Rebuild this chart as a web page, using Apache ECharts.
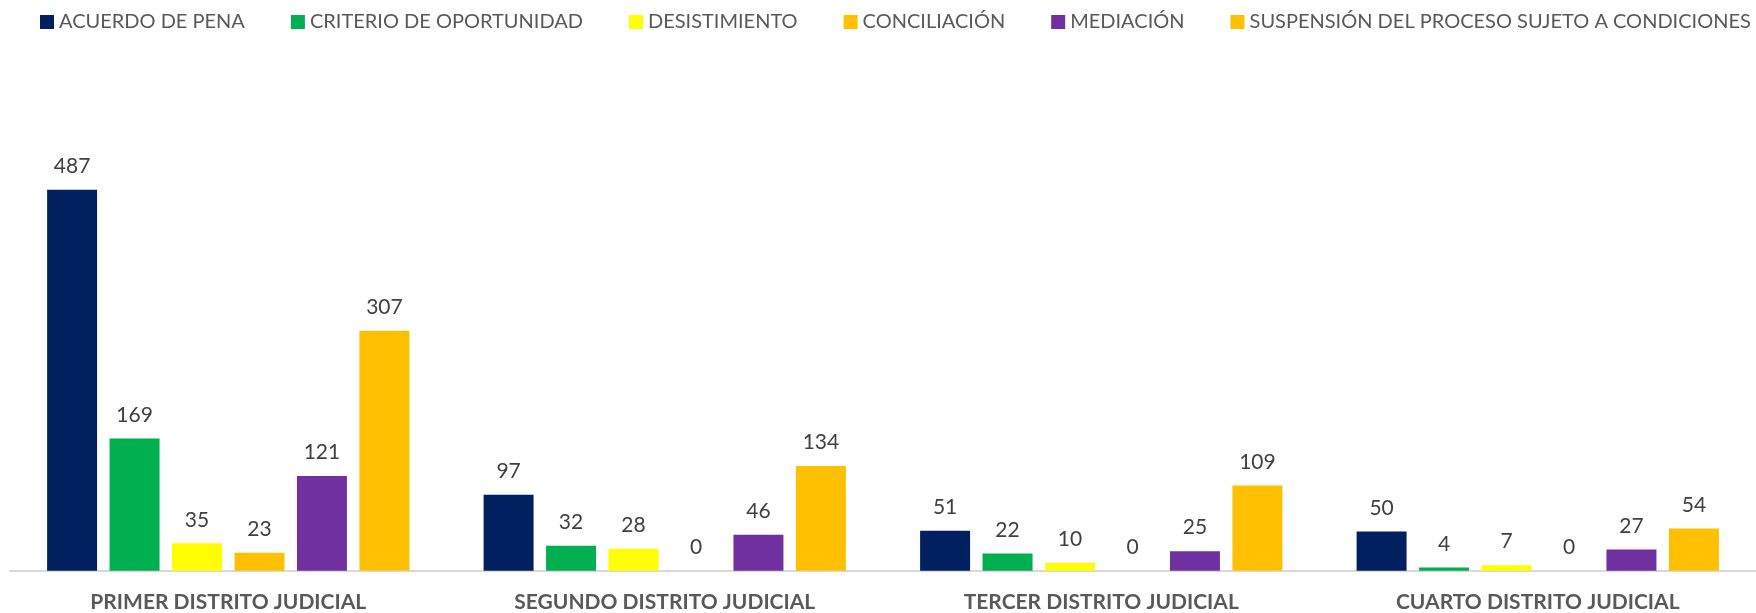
<!DOCTYPE html>
<html>
<head>
<meta charset="utf-8">
<script src="https://cdn.jsdelivr.net/npm/echarts@6/dist/echarts.min.js"></script>
<style>
  html, body { margin: 0; padding: 0; background: #fff; }
  #main { width: 1756px; height: 613px; }
</style>
</head>
<body>
<div id="main"></div>
<script>
// distritos
var distritos = ['PRIMER DISTRITO JUDICIAL', 'SEGUNDO DISTRITO JUDICIAL', 'TERCER DISTRITO JUDICIAL', 'CUARTO DISTRITO JUDICIAL'];

// valores por tipo de salida
var acuerdoPena = [487, 97, 51, 50];
var criterioOportunidad = [169, 32, 22, 4];
var desistimiento = [35, 28, 10, 7];
var conciliacion = [23, 0, 0, 0];
var mediacion = [121, 46, 25, 27];
var suspension = [307, 134, 109, 54];

var nombres = ['ACUERDO DE PENA', 'CRITERIO DE OPORTUNIDAD', 'DESISTIMIENTO', 'CONCILIACIÓN', 'MEDIACIÓN', 'SUSPENSIÓN DEL PROCESO SUJETO A CONDICIONES'];
var colores = ['#002060', '#00B050', '#FFFF00', '#FFC000', '#7030A0', '#FFC000'];
var valores = [acuerdoPena, criterioOportunidad, desistimiento, conciliacion, mediacion, suspension];

var fuente = 'Lato, "Open Sans", sans-serif';

var series = [];
for (var i = 0; i < nombres.length; i++) {
  series.push({
    name: nombres[i],
    type: 'bar',
    data: valores[i],
    barGap: '25%',
    barCategoryGap: '17%',
    itemStyle: { color: colores[i] },
    label: {
      show: true,
      position: 'top',
      distance: 13,
      color: '#404040',
      fontSize: 21,
      fontFamily: fuente
    }
  });
}

var myChart = echarts.init(document.getElementById('main'));
var option = {
  animation: false,
  color: colores,
  legend: {
    left: 40,
    top: 12,
    width: 1716,
    padding: 0,
    itemWidth: 14,
    itemHeight: 14,
    itemGap: 46,
    icon: 'rect',
    textStyle: {
      color: '#595959',
      fontSize: 20,
      fontFamily: fuente
    },
    data: nombres
  },
  grid: {
    left: 10,
    right: 0,
    top: 101.5,
    bottom: 42.3,
    containLabel: false
  },
  xAxis: {
    type: 'category',
    data: distritos,
    axisTick: { show: false },
    axisLine: { lineStyle: { color: '#D9D9D9', width: 2 } },
    axisLabel: {
      color: '#595959',
      fontWeight: 'bold',
      fontSize: 21,
      fontFamily: fuente,
      margin: 21
    }
  },
  yAxis: {
    type: 'value',
    min: 0,
    max: 600,
    show: false,
    splitLine: { show: false }
  },
  series: series
};
myChart.setOption(option);
</script>
</body>
</html>
